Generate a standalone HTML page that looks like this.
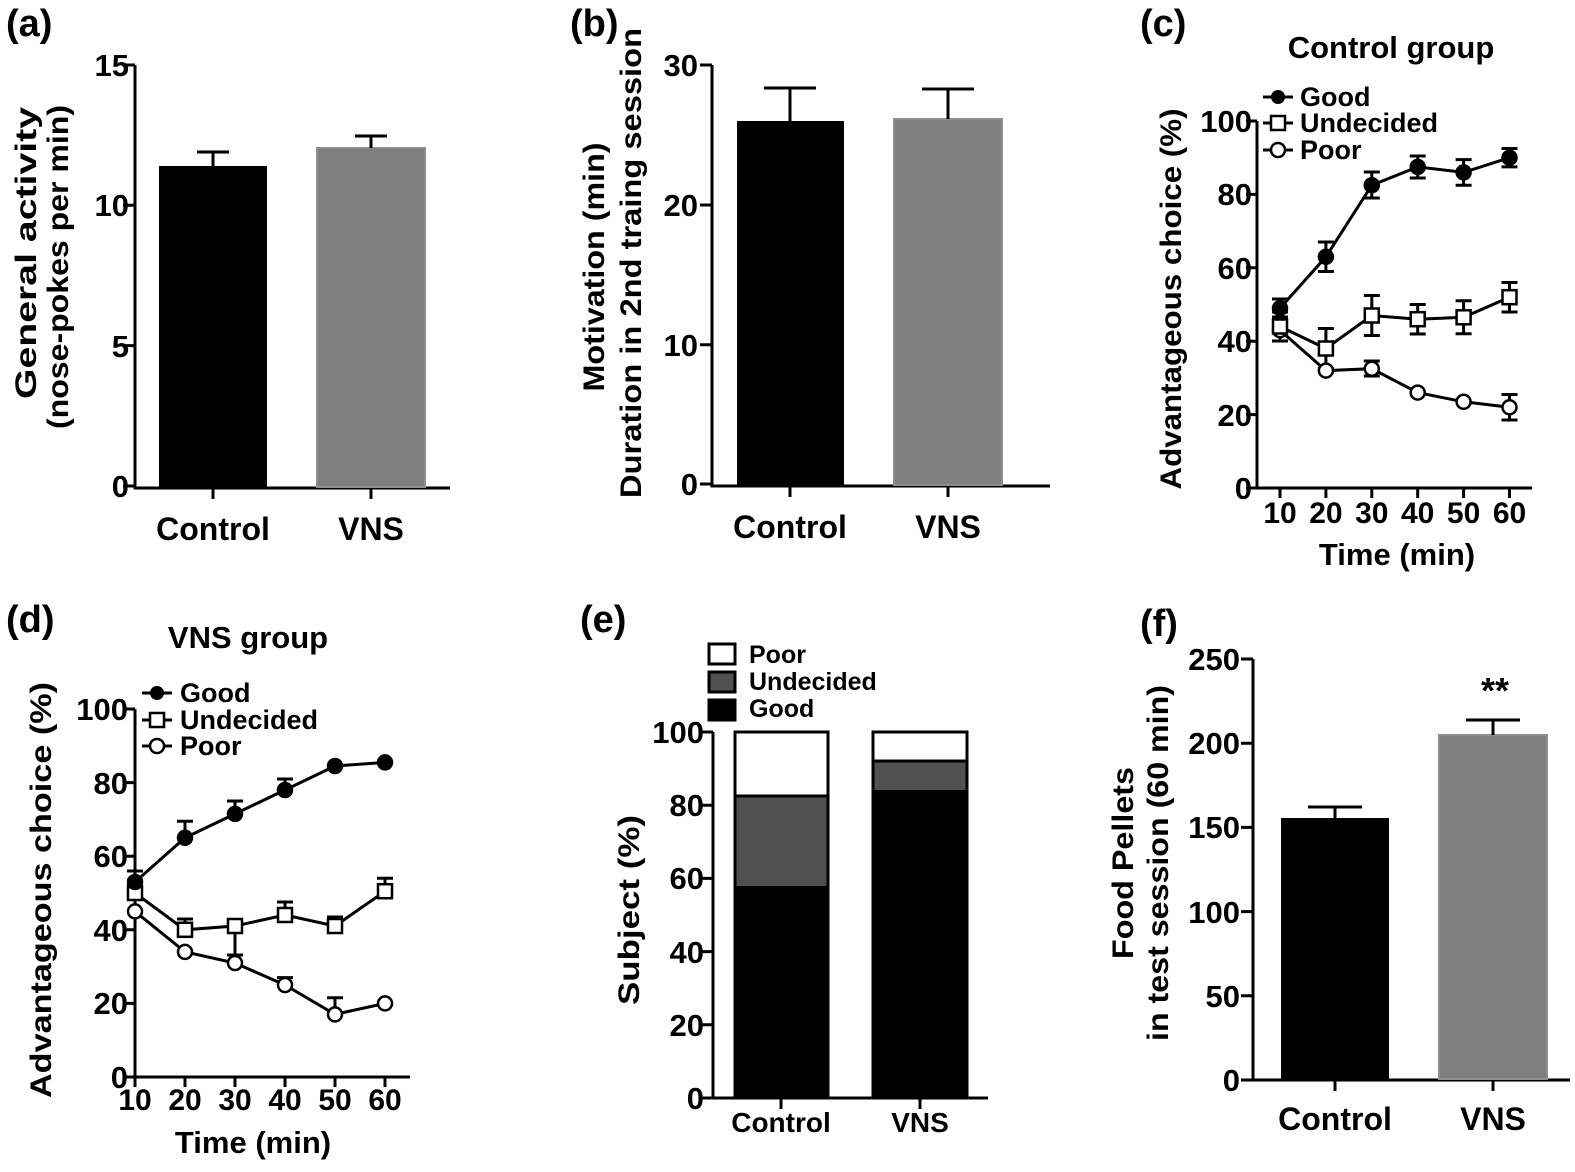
<!DOCTYPE html>
<html><head><meta charset="utf-8"><style>
html,body{margin:0;padding:0;background:#fff;}
svg text{font-family:"Liberation Sans",Arial,sans-serif;font-weight:bold;fill:#000;}
</style></head><body>
<svg width="1575" height="1167" viewBox="0 0 1575 1167" xmlns="http://www.w3.org/2000/svg">
<g stroke="#000" stroke-width="3" fill="none">
<path d="M135 65 V488 H450"/>
<path d="M123 65 H135 M123 205.3 H135 M123 345.6 H135 M123 486 H135"/>
<path d="M213 488 V499 M371 488 V499"/>
<path d="M712 65 V486 H1050"/>
<path d="M700 65 H712 M700 205 H712 M700 344.7 H712 M700 484 H712"/>
<path d="M790 486 V497 M948 486 V497"/>
<path d="M1257 121 V488 H1532"/>
<path d="M1246 121 H1257 M1246 194.4 H1257 M1246 267.8 H1257 M1246 341.2 H1257 M1246 414.6 H1257 M1246 488 H1257"/>
<path d="M1280 488 V498 M1325.9 488 V498 M1371.8 488 V498 M1417.7 488 V498 M1463.6 488 V498 M1509.5 488 V498"/>
<path d="M135 709 V1077 H410"/>
<path d="M124 709 H135 M124 782.6 H135 M124 856.2 H135 M124 929.8 H135 M124 1003.4 H135 M124 1077 H135"/>
<path d="M135 1077 V1087 M185 1077 V1087 M235 1077 V1087 M285 1077 V1087 M335 1077 V1087 M385 1077 V1087"/>
<path d="M713 732 V1098 H988"/>
<path d="M702 732 H713 M702 805.2 H713 M702 878.4 H713 M702 951.6 H713 M702 1024.8 H713 M702 1098 H713"/>
<path d="M781 1098 V1109 M920 1098 V1109"/>
<path d="M1253 659 V1080 H1570"/>
<path d="M1241 659 H1253 M1241 743.2 H1253 M1241 827.4 H1253 M1241 911.6 H1253 M1241 995.8 H1253 M1241 1080 H1253"/>
<path d="M1335 1080 V1091 M1493 1080 V1091"/>
</g>

<rect x="159" y="166" width="108" height="321" fill="#000"/>
<rect x="317" y="148" width="108" height="339" fill="#7f7f7f" stroke="#8f8f8f" stroke-width="2"/>
<g stroke="#000" stroke-width="3"><path d="M213 166 V152 M197 152 H229 M371 148 V136 M355 136 H387"/></g>
<rect x="737" y="121" width="107" height="364" fill="#000"/>
<rect x="894" y="119" width="108" height="366" fill="#7f7f7f" stroke="#8f8f8f" stroke-width="2"/>
<g stroke="#000" stroke-width="3"><path d="M790 121 V88 M764 88 H816 M948 119 V89 M922 89 H974"/></g>
<rect x="1281" y="818" width="108" height="261" fill="#000"/>
<rect x="1439" y="735" width="108" height="344" fill="#7f7f7f" stroke="#8f8f8f" stroke-width="2"/>
<g stroke="#000" stroke-width="3"><path d="M1335 818 V807 M1308 807 H1362 M1493 735 V720 M1466 720 H1520"/></g>
<text x="1495" y="703" font-size="36" text-anchor="middle">**</text>

<rect x="735" y="886" width="93" height="211" fill="#000"/>
<rect x="735" y="796" width="93" height="90" fill="#505050"/>
<rect x="735" y="732" width="93" height="64" fill="#fff"/>
<rect x="735" y="732" width="93" height="366" fill="none" stroke="#000" stroke-width="3"/>
<line x1="735" y1="796" x2="828" y2="796" stroke="#000" stroke-width="3"/>
<rect x="873" y="790" width="94" height="307" fill="#000"/>
<rect x="873" y="761" width="94" height="29" fill="#505050"/>
<rect x="873" y="732" width="94" height="29" fill="#fff"/>
<rect x="873" y="732" width="94" height="366" fill="none" stroke="#000" stroke-width="3"/>
<line x1="873" y1="761" x2="967" y2="761" stroke="#000" stroke-width="3"/>
<rect x="709" y="644" width="26" height="20" fill="#fff" stroke="#000" stroke-width="3"/>
<rect x="709" y="672" width="26" height="20" fill="#505050" stroke="#000" stroke-width="3"/>
<rect x="709" y="700" width="26" height="20" fill="#000" stroke="#000" stroke-width="3"/>
<text x="749" y="663" font-size="25">Poor</text>
<text x="749" y="690" font-size="25">Undecided</text>
<text x="749" y="717" font-size="25">Good</text>

<g stroke="#000" stroke-width="3" fill="none">
<polyline points="1280,308.2 1325.9,256.8 1371.8,185.2 1417.7,166.9 1463.6,172.4 1509.5,157.7"/>
<polyline points="1280,326.5 1325.9,348.5 1371.8,315.5 1417.7,319.2 1463.6,317.3 1509.5,297.2"/>
<polyline points="1280,330.2 1325.9,370.6 1371.8,368.7 1417.7,392.6 1463.6,401.8 1509.5,407.3"/>
<path d="M1280 299 V317 M1272 299 H1288 M1272 317 H1288
M1325.9 242 V271.5 M1317.9 242 H1333.9 M1317.9 271.5 H1333.9
M1371.8 172 V198 M1363.8 172 H1379.8 M1363.8 198 H1379.8
M1417.7 156 V178 M1409.7 156 H1425.7 M1409.7 178 H1425.7
M1463.6 159.6 V185.2 M1455.6 159.6 H1471.6 M1455.6 185.2 H1471.6
M1509.5 148.5 V166.9 M1501.5 148.5 H1517.5 M1501.5 166.9 H1517.5
M1280 312 V341 M1272 312 H1288 M1272 341 H1288
M1325.9 328.5 V368.5 M1317.9 328.5 H1333.9 M1317.9 368.5 H1333.9
M1371.8 295.5 V335.5 M1363.8 295.5 H1379.8 M1363.8 335.5 H1379.8
M1417.7 304.5 V334 M1409.7 304.5 H1425.7 M1409.7 334 H1425.7
M1463.6 300.8 V333.8 M1455.6 300.8 H1471.6 M1455.6 333.8 H1471.6
M1509.5 282.5 V312 M1501.5 282.5 H1517.5 M1501.5 312 H1517.5
M1280 319 V341 M1272 341 H1288
M1371.8 361 V376 M1363.8 361 H1379.8 M1363.8 376 H1379.8
M1509.5 394.5 V420 M1501.5 394.5 H1517.5 M1501.5 420 H1517.5"/>
</g>
<g stroke="#000" stroke-width="2.5">
<g fill="#fff">
<circle cx="1280" cy="330.2" r="7"/><circle cx="1325.9" cy="370.6" r="7"/><circle cx="1371.8" cy="368.7" r="7"/><circle cx="1417.7" cy="392.6" r="7"/><circle cx="1463.6" cy="401.8" r="7"/><circle cx="1509.5" cy="407.3" r="7"/>
<rect x="1273" y="319.5" width="14" height="14"/><rect x="1318.9" y="341.5" width="14" height="14"/><rect x="1364.8" y="308.5" width="14" height="14"/><rect x="1410.7" y="312.2" width="14" height="14"/><rect x="1456.6" y="310.3" width="14" height="14"/><rect x="1502.5" y="290.2" width="14" height="14"/>
</g>
<g fill="#000">
<circle cx="1280" cy="308.2" r="7"/><circle cx="1325.9" cy="256.8" r="7"/><circle cx="1371.8" cy="185.2" r="7"/><circle cx="1417.7" cy="166.9" r="7"/><circle cx="1463.6" cy="172.4" r="7"/><circle cx="1509.5" cy="157.7" r="7"/>
</g>
</g>
<g stroke="#000" stroke-width="3"><path d="M1263 97 H1293 M1263 123 H1293 M1263 150 H1293"/></g>
<circle cx="1278" cy="97" r="7" fill="#000"/>
<rect x="1271" y="116" width="14" height="14" fill="#fff" stroke="#000" stroke-width="2.5"/>
<circle cx="1278" cy="150" r="7" fill="#fff" stroke="#000" stroke-width="2.5"/>
<text x="1300" y="106" font-size="27">Good</text>
<text x="1300" y="132" font-size="27">Undecided</text>
<text x="1300" y="159" font-size="27">Poor</text>
<text x="1391" y="58" font-size="31" text-anchor="middle">Control group</text>

<g stroke="#000" stroke-width="3" fill="none">
<polyline points="135,882 185,837.8 235,813.9 285,790 335,766 385,762.4"/>
<polyline points="135,893 185,929.8 235,926 285,915 335,926 385,891.2"/>
<polyline points="135,911.4 185,951.9 235,963 285,985 335,1014.4 385,1003.4"/>
<path d="M135 882 V871 M127 871 H143
M185 837.8 V821.2 M177 821.2 H193
M235 813.9 V801 M227 801 H243
M285 790 V779 M277 779 H293
M135 893 V880 M127 880 H143
M185 929.8 V919 M177 919 H193
M235 926 V955 M227 955 H243
M285 915 V902 M277 902 H293
M335 926 V917 M327 917 H343
M385 891.2 V878.3 M377 878.3 H393
M285 985 V977.6 M277 977.6 H293
M335 1014.4 V997.8 M327 997.8 H343"/>
</g>
<g stroke="#000" stroke-width="2.5">
<g fill="#fff">
<circle cx="135" cy="911.4" r="7"/><circle cx="185" cy="951.9" r="7"/><circle cx="235" cy="963" r="7"/><circle cx="285" cy="985" r="7"/><circle cx="335" cy="1014.4" r="7"/><circle cx="385" cy="1003.4" r="7"/>
<rect x="128" y="886" width="14" height="14"/><rect x="178" y="922.8" width="14" height="14"/><rect x="228" y="919" width="14" height="14"/><rect x="278" y="908" width="14" height="14"/><rect x="328" y="919" width="14" height="14"/><rect x="378" y="884.2" width="14" height="14"/>
</g>
<g fill="#000">
<circle cx="135" cy="882" r="7"/><circle cx="185" cy="837.8" r="7"/><circle cx="235" cy="813.9" r="7"/><circle cx="285" cy="790" r="7"/><circle cx="335" cy="766" r="7"/><circle cx="385" cy="762.4" r="7"/>
</g>
</g>
<g stroke="#000" stroke-width="3"><path d="M142 693 H172 M142 720 H172 M142 746 H172"/></g>
<circle cx="157" cy="693" r="7" fill="#000"/>
<rect x="150" y="713" width="14" height="14" fill="#fff" stroke="#000" stroke-width="2.5"/>
<circle cx="157" cy="746" r="7" fill="#fff" stroke="#000" stroke-width="2.5"/>
<text x="180" y="702" font-size="27">Good</text>
<text x="180" y="729" font-size="27">Undecided</text>
<text x="180" y="755" font-size="27">Poor</text>
<text x="248" y="648" font-size="31" text-anchor="middle">VNS group</text>

<g font-size="31" text-anchor="end">
<text x="129" y="76">15</text><text x="129" y="216">10</text><text x="129" y="357">5</text><text x="129" y="497">0</text>
<text x="698" y="76">30</text><text x="698" y="216">20</text><text x="698" y="356">10</text><text x="698" y="495">0</text>
<text x="1252" y="132">100</text><text x="1252" y="205">80</text><text x="1252" y="279">60</text><text x="1252" y="352">40</text><text x="1252" y="426">20</text><text x="1252" y="499">0</text>
<text x="128" y="720">100</text><text x="128" y="794">80</text><text x="128" y="867">60</text><text x="128" y="941">40</text><text x="128" y="1014">20</text><text x="128" y="1088">0</text>
<text x="704" y="743">100</text><text x="704" y="816">80</text><text x="704" y="889">60</text><text x="704" y="963">40</text><text x="704" y="1036">20</text><text x="704" y="1109">0</text>
<text x="1240" y="670">250</text><text x="1240" y="754">200</text><text x="1240" y="838">150</text><text x="1240" y="923">100</text><text x="1240" y="1007">50</text><text x="1240" y="1091">0</text>
</g>
<g font-size="30" text-anchor="middle">
<text x="1280" y="523">10</text><text x="1325.9" y="523">20</text><text x="1371.8" y="523">30</text><text x="1417.7" y="523">40</text><text x="1463.6" y="523">50</text><text x="1509.5" y="523">60</text>
<text x="135" y="1110">10</text><text x="185" y="1110">20</text><text x="235" y="1110">30</text><text x="285" y="1110">40</text><text x="335" y="1110">50</text><text x="385" y="1110">60</text>
</g>
<g font-size="32" text-anchor="middle">
<text x="213" y="540">Control</text><text x="371" y="540">VNS</text>
<text x="790" y="538">Control</text><text x="948" y="538">VNS</text>
<text x="1335" y="1130">Control</text><text x="1493" y="1130">VNS</text>
</g>
<g font-size="28" text-anchor="middle">
<text x="781" y="1132">Control</text><text x="920" y="1132">VNS</text>
</g>
<text x="1397" y="565" font-size="31" text-anchor="middle">Time (min)</text>
<text x="253" y="1153" font-size="31" text-anchor="middle">Time (min)</text>

<g font-size="30" text-anchor="middle">
<text transform="translate(36,253) rotate(-90)" textLength="292" lengthAdjust="spacingAndGlyphs">General activity</text>
<text transform="translate(68,267) rotate(-90)" textLength="324" lengthAdjust="spacingAndGlyphs">(nose-pokes per min)</text>
<text transform="translate(604,267) rotate(-90)" textLength="249" lengthAdjust="spacingAndGlyphs">Motivation (min)</text>
<text transform="translate(641,263) rotate(-90)" textLength="470" lengthAdjust="spacingAndGlyphs">Duration in 2nd traing session</text>
<text transform="translate(1181,299) rotate(-90)" textLength="381" lengthAdjust="spacingAndGlyphs">Advantageous choice (%)</text>
<text transform="translate(51,890) rotate(-90)" textLength="416" lengthAdjust="spacingAndGlyphs">Advantageous choice (%)</text>
<text transform="translate(639,910) rotate(-90)" textLength="190" lengthAdjust="spacingAndGlyphs">Subject (%)</text>
<text transform="translate(1133,863) rotate(-90)" textLength="192" lengthAdjust="spacingAndGlyphs">Food Pellets</text>
<text transform="translate(1168,863) rotate(-90)" textLength="356" lengthAdjust="spacingAndGlyphs">in test session (60 min)</text>
</g>

<g font-size="38">
<text x="6" y="36">(a)</text>
<text x="570" y="36">(b)</text>
<text x="1140" y="36">(c)</text>
<text x="6" y="632">(d)</text>
<text x="580" y="632">(e)</text>
<text x="1140" y="636">(f)</text>
</g>
</svg>
</body></html>
